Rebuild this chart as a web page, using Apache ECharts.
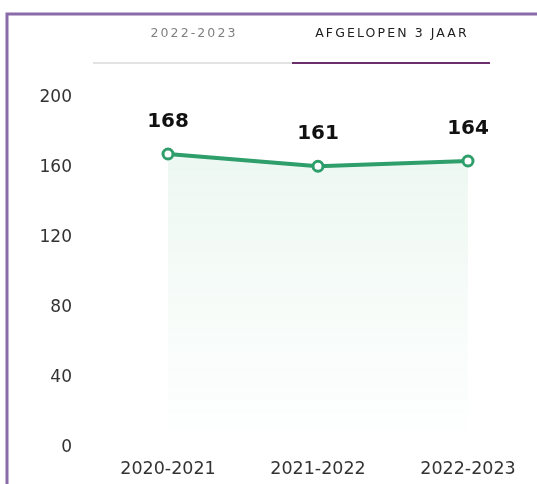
<!DOCTYPE html>
<html><head><meta charset="utf-8">
<script src="https://cdn.jsdelivr.net/npm/echarts@6/dist/echarts.min.js"></script>
<style>
html,body{margin:0;padding:0;background:#fff}
#wrap{position:relative;width:537px;height:484px}
#c{width:537px;height:484px}
.tab{position:absolute;top:24px;font-family:"DejaVu Sans";font-size:12.5px;letter-spacing:2.1px;white-space:nowrap;line-height:18px;transform:translateX(-50%)}
</style>
</head><body><div id="wrap"><div id="c"></div>
<div class="tab" id="t0" style="left:194px;color:#808080"></div>
<div class="tab" id="t1" style="left:392px;color:#1e1e1e"></div>
</div>
<script>
var categories = ['2020-2021', '2021-2022', '2022-2023'];
var values = [168, 161, 164];
var yTicks = [0, 40, 80, 120, 160, 200];
var tabs = ['2022-2023', 'AFGELOPEN 3 JAAR'];

document.getElementById('t0').textContent = tabs[0];
document.getElementById('t1').textContent = tabs[1];

var chart = echarts.init(document.getElementById('c'));
chart.setOption({
  animation: false,
  grid: {left: 168, right: 69, top: 98, bottom: 36},
  xAxis: {
    type: 'category', data: categories, boundaryGap: false,
    axisLine: {show: false}, axisTick: {show: false},
    axisLabel: {color: '#333', fontSize: 17.5, fontFamily: 'DejaVu Sans', margin: 12}
  },
  yAxis: {
    type: 'value', min: yTicks[0], max: yTicks[yTicks.length - 1], interval: 40,
    splitLine: {show: false}, axisLine: {show: false}, axisTick: {show: false},
    axisLabel: {color: '#333', fontSize: 17, fontFamily: 'DejaVu Sans', margin: 96}
  },
  graphic: [
    {type: 'rect', shape: {x: 7, y: 14, width: 600, height: 520}, style: {fill: 'none', stroke: '#8a6aa8', lineWidth: 3}, z: 10},
    {type: 'line', shape: {x1: 93, y1: 63, x2: 292, y2: 63}, style: {stroke: '#e3e3e3', lineWidth: 2}},
    {type: 'line', shape: {x1: 292, y1: 63, x2: 490, y2: 63}, style: {stroke: '#6b2f6e', lineWidth: 2}}
  ],
  series: [{
    type: 'line', data: values,
    symbol: 'circle', symbolSize: 10,
    lineStyle: {color: '#2e9e6a', width: 4},
    itemStyle: {color: '#fff', borderColor: '#2e9e6a', borderWidth: 3},
    areaStyle: {color: new echarts.graphic.LinearGradient(0, 0, 0, 1, [
      {offset: 0, color: 'rgba(46,170,106,0.12)'},
      {offset: 1, color: 'rgba(46,170,106,0.0)'}
    ])},
    label: {show: true, position: 'top', distance: 16, color: '#111', fontSize: 20, fontWeight: 'bold', fontFamily: 'DejaVu Sans'}
  }]
});
</script></body></html>
